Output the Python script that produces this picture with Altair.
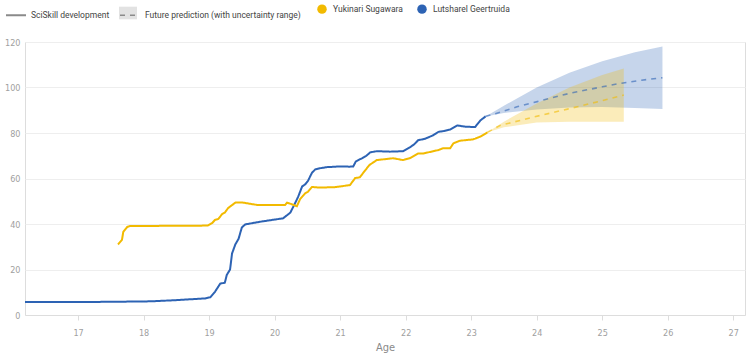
import altair as alt
import pandas as pd

YUKI = "Yukinari Sugawara"
LUTS = "Lutsharel Geertruida"
HIST = "SciSkill development"
PRED = "Future prediction (with uncertainty range)"

# Lutsharel Geertruida - observed SciSkill
blue_age = [16.19, 17.00, 17.50, 18.10, 18.48, 18.71, 18.94, 19.02, 19.09, 19.17, 19.24, 19.27,
            19.32, 19.35, 19.40, 19.45, 19.50, 19.55, 19.78, 20.13, 20.24, 20.31, 20.36, 20.42,
            20.47, 20.51, 20.57, 20.62, 20.69, 20.80, 21.00, 21.15, 21.20, 21.24, 21.34, 21.40,
            21.46, 21.56, 21.76, 21.96, 22.07, 22.13, 22.19, 22.30, 22.42, 22.50, 22.57, 22.68,
            22.79, 22.91, 23.06, 23.14, 23.22]
blue_val = [5.7, 5.7, 5.8, 6.0, 6.5, 6.9, 7.3, 7.8, 10.2, 13.8, 14.2, 17.6,
            20.0, 27.0, 31.0, 33.5, 38.5, 39.8, 41.0, 42.5, 45.0, 49.0, 52.0, 56.5,
            57.5, 59.0, 62.5, 64.0, 64.5, 65.0, 65.3, 65.2, 65.3, 67.5, 69.0, 70.0,
            71.5, 72.0, 71.8, 72.0, 73.8, 75.0, 76.8, 77.5, 79.0, 80.5, 80.8, 81.5,
            83.3, 82.8, 82.6, 85.5, 87.3]

# Yukinari Sugawara - observed SciSkill
yel_age = [17.61, 17.67, 17.69, 17.75, 17.79, 18.98, 19.05, 19.09, 19.14, 19.20, 19.24, 19.29,
           19.35, 19.40, 19.50, 19.60, 19.73, 20.16, 20.19, 20.27, 20.34, 20.39, 20.47, 20.51,
           20.57, 20.69, 20.92, 21.15, 21.23, 21.30, 21.38, 21.45, 21.56, 21.81, 21.96, 22.07,
           22.19, 22.27, 22.50, 22.57, 22.68, 22.73, 22.83, 23.03, 23.14, 23.25]
yel_val = [31.0, 33.0, 36.5, 38.7, 39.1, 39.3, 40.5, 41.8, 42.2, 44.4, 45.0, 47.0,
           48.3, 49.4, 49.5, 49.0, 48.4, 48.3, 49.4, 48.6, 47.8, 51.0, 53.6, 54.2,
           56.3, 56.0, 56.2, 57.1, 60.2, 60.5, 63.5, 66.0, 68.1, 68.9, 68.1, 69.0,
           71.0, 71.0, 72.5, 73.3, 73.3, 75.5, 76.6, 77.2, 78.4, 80.3]

# Predictions with uncertainty ranges
blue_pred_age = [23.22, 23.37, 23.70, 24.01, 24.51, 25.00, 25.27, 25.60, 25.92]
blue_pred_val = [87.3, 88.5, 91.5, 93.8, 97.5, 100.3, 101.8, 103.2, 104.3]
blue_band_age = [23.22, 23.50, 24.00, 24.50, 25.00, 25.50, 25.92]
blue_band_hi = [87.3, 92.0, 100.0, 106.5, 111.5, 115.5, 118.0]
blue_band_lo = [87.3, 88.8, 90.3, 91.2, 91.4, 91.0, 90.5]

yel_pred_age = [23.25, 23.44, 23.95, 24.47, 24.97, 25.33]
yel_pred_val = [80.3, 83.3, 87.0, 90.5, 94.0, 96.7]
yel_band_age = [23.25, 23.50, 24.00, 24.50, 25.00, 25.33]
yel_band_hi = [80.3, 85.0, 93.0, 100.0, 105.5, 108.4]
yel_band_lo = [80.3, 82.5, 84.6, 85.0, 85.0, 85.0]

x_ticks = list(range(17, 28))
y_ticks = [0, 20, 40, 60, 80, 100, 120]

YELLOW = "#F2BA00"
BLUE = "#2D63B4"
AXIS_FONT = "Liberation Sans Narrow, DejaVu Sans Condensed, sans-serif"

rows = []
for a, v in zip(blue_age, blue_val):
    rows.append({"age": a, "value": v, "person": LUTS, "kind": HIST, "seg": "b_hist"})
for a, v in zip(yel_age, yel_val):
    rows.append({"age": a, "value": v, "person": YUKI, "kind": HIST, "seg": "y_hist"})
for a, v in zip(blue_pred_age, blue_pred_val):
    rows.append({"age": a, "value": v, "person": LUTS, "kind": PRED, "seg": "b_pred"})
for a, v in zip(yel_pred_age, yel_pred_val):
    rows.append({"age": a, "value": v, "person": YUKI, "kind": PRED, "seg": "y_pred"})
lines_df = pd.DataFrame(rows)

band_rows = []
for a, lo, hi in zip(blue_band_age, blue_band_lo, blue_band_hi):
    band_rows.append({"age": a, "lo": lo, "hi": hi, "person": LUTS, "order": 0, "band": PRED})
for a, lo, hi in zip(yel_band_age, yel_band_lo, yel_band_hi):
    band_rows.append({"age": a, "lo": lo, "hi": hi, "person": YUKI, "order": 1, "band": PRED})
band_df = pd.DataFrame(band_rows)

x_enc = alt.X("age:Q", scale=alt.Scale(domain=[16.19, 27.18], nice=False, zero=False),
              axis=alt.Axis(values=x_ticks, format="d", title="Age", grid=False, domain=True,
                            domainColor="#dddddd", ticks=True, tickColor="#dddddd", tickSize=5,
                            labelPadding=8, labelFontSize=9, labelColor="#a0a0a0",
                            labelFont=AXIS_FONT, titleFont=AXIS_FONT,
                            titleFontSize=11, titleFontWeight="normal", titleColor="#8a8a8a",
                            titlePadding=4))
y_scale = alt.Scale(domain=[0, 120], nice=False)

bands = alt.Chart(band_df).mark_area(fillOpacity=0.27, strokeWidth=0).encode(
    x=x_enc,
    y=alt.Y("lo:Q", scale=y_scale,
            axis=alt.Axis(values=y_ticks, title=None, domain=False, ticks=False,
                          gridColor="#eeeeee", labelPadding=5, labelFontSize=9,
                          labelColor="#a0a0a0", labelFont=AXIS_FONT)),
    y2="hi:Q",
    fill=alt.Fill("person:N", scale=alt.Scale(domain=[YUKI, LUTS], range=[YELLOW, BLUE]),
                  legend=alt.Legend(title=None, orient="none", legendX=292, legendY=-38,
                                    direction="horizontal", symbolType="circle", symbolSize=90,
                                    symbolOpacity=1, symbolStrokeWidth=0, labelOffset=6,
                                    columnPadding=14, labelFontSize=8.5, labelColor="#444444",
                                    labelFont="Roboto", labelLimit=400, padding=0)),
    opacity=alt.Opacity("band:N", scale=alt.Scale(domain=[PRED], range=[1]),
                        legend=alt.Legend(title=None, orient="none", legendX=94, legendY=-38,
                                          symbolType="M-1,-0.7H1V0.7H-1Z", symbolSize=324,
                                          symbolFillColor="#e2e2e2", symbolStrokeWidth=0,
                                          symbolOpacity=0.6, labelExpr="''", labelFontSize=8.5,
                                          labelOffset=0, padding=0)),
    order="order:Q",
)

lines = alt.Chart(lines_df).mark_line(strokeCap="butt").encode(
    x="age:Q",
    y=alt.Y("value:Q", scale=y_scale),
    stroke=alt.Stroke("person:N", scale=alt.Scale(domain=[YUKI, LUTS], range=[YELLOW, BLUE]),
                      legend=None),
    strokeDash=alt.StrokeDash("kind:N", scale=alt.Scale(domain=[HIST, PRED], range=[[1, 0], [5, 5]]),
                              legend=alt.Legend(title=None, orient="none", legendX=-20, legendY=-38,
                                                direction="horizontal", symbolType="stroke",
                                                symbolSize=400, symbolStrokeColor="#8a8a8a",
                                                symbolStrokeWidth=2, symbolOpacity=1, labelOffset=4,
                                                columnPadding=6, labelFontSize=8.5,
                                                labelColor="#444444", labelFont="Roboto",
                                                labelLimit=400, padding=0)),
    strokeWidth=alt.StrokeWidth("kind:N", scale=alt.Scale(domain=[HIST, PRED], range=[2, 1.6]),
                                legend=None),
    strokeOpacity=alt.StrokeOpacity("kind:N", scale=alt.Scale(domain=[HIST, PRED], range=[1, 0.6]),
                                    legend=None),
    detail="seg:N",
)

chart = alt.layer(bands, lines).resolve_scale(stroke="independent").properties(
    width=720, height=273,
    autosize=alt.AutoSizeParams(type="none"),
    padding={"left": 25, "top": 42, "right": 5, "bottom": 42},
).configure_view(stroke=None).configure(background="white")

chart.save("out.html", embed_options={"renderer": "svg", "actions": False})
